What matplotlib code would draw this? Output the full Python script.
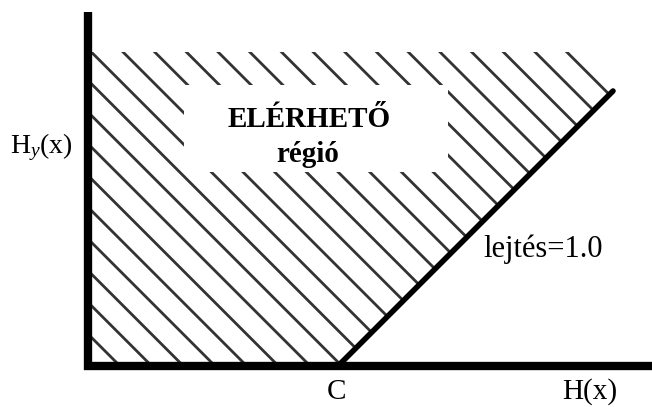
import numpy as np
import matplotlib
matplotlib.use("Agg")
import matplotlib.pyplot as plt
from matplotlib.patches import Polygon, Rectangle

# ---- data (abstract units) ----
C = 2.5                 # intercept on H(x) axis
slope = 1.0             # lejtés
x_corner = 5.25         # end of the boundary line
y_top = 3.14            # top of the reachable region
hatch_k0 = 0.32         # first hatch line (x + y = k)
hatch_step = 0.317      # spacing of hatch lines
y_axis_top = 3.54
x_axis_end = 5.70

labels = {"x": "H(x)", "c": "C", "slope": "lejtés=1.0",
          "region1": "ELÉRHETŐ", "region2": "régió"}

plt.rcParams['mathtext.fontset'] = 'custom'
plt.rcParams['mathtext.rm'] = 'Liberation Serif'
plt.rcParams['mathtext.it'] = 'Liberation Serif:italic'

fig = plt.figure(figsize=(6.52, 4.07), dpi=100)
ax = fig.add_axes([0, 0, 1, 1])
ax.set_xlim(-0.88, 5.64)
ax.set_ylim(-0.41, 3.66)
ax.axis('off')

y_corner = slope * (x_corner - C)
x_topright = x_corner - (y_top - y_corner)
region = [(0, 0), (C, 0), (x_corner, y_corner), (x_topright, y_top), (0, y_top)]
poly = Polygon(region, closed=True, facecolor='none', edgecolor='none')
ax.add_patch(poly)

# hatch lines x + y = k clipped to region
ks = np.arange(hatch_k0, x_corner + y_corner + 0.5, hatch_step)
for k in ks:
    xs = np.array([-1.0, k + 1.0])
    ys = k - xs
    ln, = ax.plot(xs, ys, color='#333333', lw=2.0, solid_capstyle='butt', zorder=2)
    ln.set_clip_path(poly)

# white label box
ax.add_patch(Rectangle((0.96, 1.94), 2.64, 0.87, facecolor='white', edgecolor='none', zorder=3))

# boundary line with slope 1
ax.plot([C, x_corner], [0, y_corner], color='black', lw=4.0, solid_capstyle='round', zorder=4)

# axes
ax.plot([0, 0], [-0.04, y_axis_top], color='black', lw=6.0, solid_capstyle='butt', zorder=5)
ax.plot([-0.04, x_axis_end], [0, 0], color='black', lw=6.0, solid_capstyle='butt', zorder=5)

serif = 'Liberation Serif'
ax.text(2.21, 2.39, labels["region1"], family=serif, weight='bold', fontsize=21,
        ha='center', va='baseline', zorder=6)
ax.text(2.20, 2.04, labels["region2"], family=serif, weight='bold', fontsize=21,
        ha='center', va='baseline', zorder=6)
ax.text(3.95, 1.09, labels["slope"], family=serif, fontsize=22,
        ha='left', va='baseline', zorder=6)
ax.text(C - 0.01, -0.33, labels["c"], family=serif, fontsize=21, ha='center', va='baseline')
ax.text(5.02, -0.33, labels["x"], family=serif, fontsize=21, ha='center', va='baseline')
ax.text(-0.47, 2.13, r"$\mathrm{H}_{y}\mathrm{(x)}$", fontsize=20, ha='center', va='baseline')

fig.savefig("out.png", dpi=100, facecolor='white')
